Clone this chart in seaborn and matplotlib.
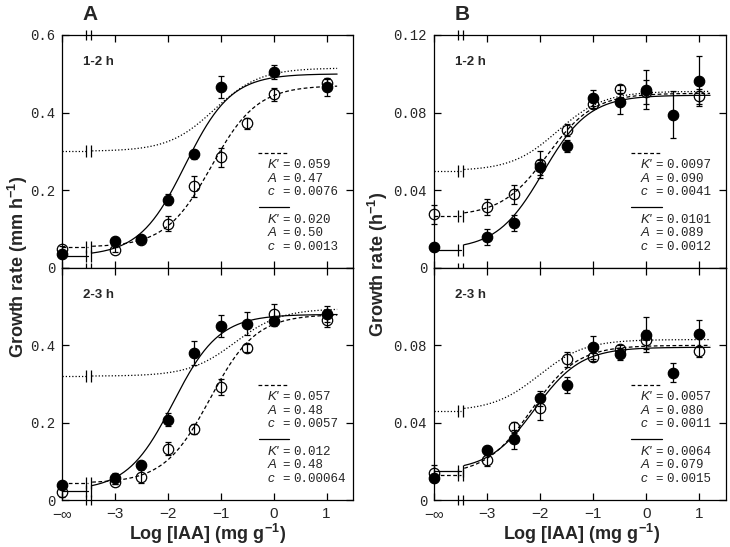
import numpy as np
import pandas as pd
import matplotlib
matplotlib.use('Agg')
import matplotlib.pyplot as plt
import seaborn as sns

# x positions (log IAA, -4 stands for -inf)
x_a = [-4, -3, -2.5, -2, -1.5, -1, -0.5, 0, 1]
x_b = [-4, -3, -2.5, -2, -1.5, -1, -0.5, 0, 0.5, 1]
nan = np.nan

# panel A, 1-2 h
a1_filled = [0.037, 0.069, 0.075, 0.176, 0.293, 0.467, nan, 0.505, 0.465]
a1_filled_err = [0.006, 0.007, 0.006, 0.015, 0.012, 0.028, nan, 0.018, 0.021]
a1_open = [0.049, 0.047, 0.072, 0.114, 0.210, 0.285, 0.373, 0.447, 0.477]
a1_open_err = [0.008, 0.006, 0.006, 0.020, 0.027, 0.025, 0.014, 0.016, 0.012]
# panel A, 2-3 h
a2_filled = [0.039, 0.056, 0.090, 0.208, 0.380, 0.450, 0.456, 0.462, 0.481]
a2_filled_err = [0.006, 0.014, 0.008, 0.017, 0.030, 0.028, 0.030, 0.012, 0.020]
a2_open = [0.021, 0.047, 0.060, 0.133, 0.183, 0.292, 0.394, 0.480, 0.466]
a2_open_err = [0.012, 0.006, 0.017, 0.017, 0.013, 0.020, 0.010, 0.026, 0.018]
# panel B, 1-2 h
b1_filled = [0.0109, 0.0159, 0.0233, 0.0518, 0.0627, 0.0875, 0.0855, 0.0918, 0.0790, 0.0963]
b1_filled_err = [0.002, 0.004, 0.004, 0.004, 0.003, 0.004, 0.006, 0.010, 0.012, 0.013]
b1_open = [0.0276, 0.0314, 0.0380, 0.0535, 0.0711, 0.0846, 0.0920, 0.0907, nan, 0.0884]
b1_open_err = [0.005, 0.004, 0.005, 0.007, 0.003, 0.002, 0.002, 0.006, nan, 0.004]
# panel B, 2-3 h
b2_filled = [0.0113, 0.0258, 0.0313, 0.0526, 0.0595, 0.0790, 0.0754, 0.0855, 0.0658, 0.0860]
b2_filled_err = [0.002, 0.002, 0.005, 0.004, 0.004, 0.006, 0.003, 0.009, 0.005, 0.007]
b2_open = [0.0142, 0.0205, 0.0376, 0.0475, 0.0728, 0.0740, 0.0783, 0.0830, nan, 0.0769]
b2_open_err = [0.004, 0.003, 0.003, 0.006, 0.004, 0.002, 0.002, 0.005, nan, 0.003]

# fitted parameters (K', A, c): dashed = open, solid = filled, dotted = estimated
a1_dash = (0.059, 0.47, 0.0076)
a1_solid = (0.020, 0.50, 0.0013)
a1_dot = (0.0314, 0.515, 0.044)
a2_dash = (0.057, 0.48, 0.0057)
a2_solid = (0.012, 0.48, 0.00064)
a2_dot = (0.066, 0.495, 0.121)
b1_dash = (0.0097, 0.090, 0.0041)
b1_solid = (0.0101, 0.089, 0.0012)
b1_dot = (0.00958, 0.091, 0.0117)
b2_dash = (0.0057, 0.080, 0.0011)
b2_solid = (0.0064, 0.079, 0.0015)
b2_dot = (0.00422, 0.083, 0.00524)

a1_text = [['0.059', '0.47', '0.0076'], ['0.020', '0.50', '0.0013']]
a2_text = [['0.057', '0.48', '0.0057'], ['0.012', '0.48', '0.00064']]
b1_text = [['0.0097', '0.090', '0.0041'], ['0.0101', '0.089', '0.0012']]
b2_text = [['0.0057', '0.080', '0.0011'], ['0.0064', '0.079', '0.0015']]

x_ticks = [-4, -3, -2, -1, 0, 1]
x_ticklabels = ['\u2212\u221e', '\u22123', '\u22122', '\u22121', '0', '1']

sns.set_style('ticks')
plt.rcParams['font.family'] = ['Liberation Sans', 'DejaVu Sans']
plt.rcParams['mathtext.fontset'] = 'custom'
plt.rcParams['mathtext.rm'] = 'Liberation Sans'
plt.rcParams['mathtext.bf'] = 'Liberation Sans:bold'

DASH = (0, (3, 2))
DOT = (0, (1, 1.6))
MONO = 'Liberation Mono'


def model(x, K, A, c):
    conc = 10.0 ** np.asarray(x, dtype=float)
    return A * (conc + c) / (K + conc + c)


def brk(ax, y, size=7):
    for xx in (-3.54, -3.46):
        ax.plot([xx], [y], marker='|', ms=size, mew=0.9, color='k', clip_on=False, zorder=5)


def param_block(ax, vals):
    ax.plot([0.673, 0.777], [0.494, 0.494], transform=ax.transAxes, color='k', lw=0.9, linestyle=DASH)
    ax.plot([0.676, 0.78], [0.262, 0.262], transform=ax.transAxes, color='k', lw=0.9)
    rows = [[0.442, 0.382, 0.326], [0.206, 0.150, 0.090]]
    for vv, ys in zip(vals, rows):
        for sym, v, yy in zip(["K'", 'A', 'c'], vv, ys):
            ax.text(0.708, yy, sym, transform=ax.transAxes, fontsize=9.5, style='italic', va='center')
            ax.text(0.757, yy, '=', transform=ax.transAxes, fontsize=9, family=MONO, va='center')
            ax.text(0.795, yy, v, transform=ax.transAxes, fontsize=9, family=MONO, va='center')


def draw_panel(ax, x, filled, filled_err, opened, opened_err, dash_p, solid_p, dot_p,
               ymax, yticks, ylabels, label, texts, bottom):
    xc = np.linspace(-3.43, 1.2, 200)
    for p, ls in [(dot_p, DOT), (dash_p, DASH), (solid_p, '-')]:
        sns.lineplot(x=xc, y=model(xc, *p), ax=ax, color='k', lw=0.9, linestyle=ls)
        y0 = model(-np.inf, *p)
        ax.plot([-4, -3.5], [y0, y0], color='k', lw=0.9, linestyle=ls, clip_on=False)
        brk(ax, y0, 8.5)
    ax.errorbar(x, opened, yerr=opened_err, fmt='o', ms=7.5, mfc='none', mec='k', mew=0.9,
                ecolor='k', elinewidth=0.9, capsize=2.5, capthick=0.9, clip_on=False, zorder=3)
    ax.errorbar(x, filled, yerr=filled_err, fmt='o', ms=7.5, color='k', mew=0.9,
                ecolor='k', elinewidth=0.9, capsize=2.5, capthick=0.9, clip_on=False, zorder=4)
    ax.set_xlim(-4, 1.5)
    ax.set_ylim(0, ymax)
    ax.set_xticks(x_ticks)
    ax.set_yticks(yticks)
    ax.set_yticklabels(ylabels, family=MONO, fontsize=10)
    ax.tick_params(direction='in', top=True, right=True, length=5, width=0.9, color='k', pad=5)
    if bottom:
        ax.set_xticklabels(x_ticklabels, fontsize=11)
        brk(ax, 0, 7)
    else:
        ax.tick_params(labelbottom=False)
        brk(ax, ymax, 7)
        brk(ax, 0, 7)
    for s in ax.spines.values():
        s.set_color('k')
        s.set_linewidth(0.9)
    ax.text(0.072, 0.884, label, transform=ax.transAxes, fontsize=9.5, weight='bold', va='center')
    param_block(ax, texts)
    ax.set_xlabel('')
    ax.set_ylabel('')


fig = plt.figure(figsize=(7.3, 5.47), dpi=100)
ax_a1 = fig.add_axes([62 / 730, 1 - 268 / 547, 291 / 730, 233 / 547])
ax_a2 = fig.add_axes([62 / 730, 1 - 500 / 547, 291 / 730, 232 / 547])
ax_b1 = fig.add_axes([434 / 730, 1 - 268 / 547, 292 / 730, 233 / 547])
ax_b2 = fig.add_axes([434 / 730, 1 - 500 / 547, 292 / 730, 232 / 547])

ya_t = [0, 0.2, 0.4, 0.6]
yb_t = [0, 0.04, 0.08, 0.12]
draw_panel(ax_a1, x_a, a1_filled, a1_filled_err, a1_open, a1_open_err, a1_dash, a1_solid, a1_dot,
           0.6, ya_t, ['0', '0.2', '0.4', '0.6'], '1-2 h', a1_text, False)
draw_panel(ax_a2, x_a, a2_filled, a2_filled_err, a2_open, a2_open_err, a2_dash, a2_solid, a2_dot,
           0.6, ya_t, ['0', '0.2', '0.4', ''], '2-3 h', a2_text, True)
draw_panel(ax_b1, x_b, b1_filled, b1_filled_err, b1_open, b1_open_err, b1_dash, b1_solid, b1_dot,
           0.12, yb_t, ['0', '0.04', '0.08', '0.12'], '1-2 h', b1_text, False)
draw_panel(ax_b2, x_b, b2_filled, b2_filled_err, b2_open, b2_open_err, b2_dash, b2_solid, b2_dot,
           0.12, yb_t, ['0', '0.04', '0.08', ''], '2-3 h', b2_text, True)

fig.text(90 / 730, 1 - 14 / 547, 'A', fontsize=15, weight='bold', ha='center', va='center')
fig.text(462 / 730, 1 - 14 / 547, 'B', fontsize=15, weight='bold', ha='center', va='center')
fig.text(18 / 730, 0.512, 'Growth rate (mm h$^{\\mathbf{-1}}$)', rotation=90, fontsize=13,
         weight='bold', ha='center', va='center')
fig.text(378 / 730, 0.516, 'Growth rate (h$^{\\mathbf{-1}}$)', rotation=90, fontsize=13,
         weight='bold', ha='center', va='center')
fig.text(208 / 730, 1 - 534 / 547, 'Log [IAA] (mg g$^{\\mathbf{-1}}$)', fontsize=13,
         weight='bold', ha='center', va='center')
fig.text(582 / 730, 1 - 534 / 547, 'Log [IAA] (mg g$^{\\mathbf{-1}}$)', fontsize=13,
         weight='bold', ha='center', va='center')

fig.savefig('out.png', dpi=100)
